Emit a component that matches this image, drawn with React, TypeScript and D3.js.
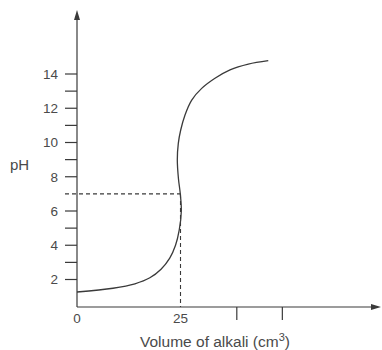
import React from 'react';
import * as d3 from 'd3';

// Data

const volumes: number[] = [0, 8.7, 14, 17.6, 20.3, 22.4, 23.8, 24.7, 25.2, 24.95, 24.5, 24.23, 24.47, 25.05, 26.09, 27.71, 30.12, 33.33, 36.96, 41.38, 46.2];
const phValues: number[] = [1.27, 1.49, 1.75, 2.1, 2.6, 3.25, 4.0, 4.9, 6.0, 7.0, 7.9, 8.98, 9.95, 10.73, 11.61, 12.48, 13.16, 13.75, 14.24, 14.58, 14.78];

const yLabelTicks: number[] = [2, 4, 6, 8, 10, 12, 14];
const yMinorTicks: number[] = [3, 5, 9, 11, 13];
const xLabelTicks: number[] = [0, 25];
const xMinorTicks: number[] = [38.6, 49.6];

const equivalenceVolume = 25;
const equivalencePH = 7;

function TitrationCurveRaw() {
    const ref = React.useRef<SVGSVGElement>(null);

    React.useEffect(() => {
        const width = 382;
        const height = 350;
        const ink = '#3a3a3a';
        const textInk = '#4a4a4a';
        const font = '"Liberation Sans", Arial, sans-serif';

        const x = d3.scaleLinear().domain([0, 25]).range([77, 180.5]);
        const y = d3.scaleLinear().domain([2, 14]).range([279.5, 74]);

        const axisY = 307; // x axis baseline
        const axisX = x(0);

        const svg = d3.select(ref.current)
            .attr('width', width)
            .attr('height', height);
        svg.selectAll('*').remove();

        const g = svg.append('g');

        // axes
        g.append('line')
            .attr('x1', axisX).attr('x2', 372)
            .attr('y1', axisY).attr('y2', axisY)
            .attr('stroke', ink).attr('stroke-width', 1.2);
        g.append('path')
            .attr('d', `M381,${axisY} L371,${axisY - 3} L371,${axisY + 3} Z`)
            .attr('fill', ink);

        g.append('line')
            .attr('x1', axisX).attr('x2', axisX)
            .attr('y1', axisY).attr('y2', 19)
            .attr('stroke', ink).attr('stroke-width', 1.2);
        g.append('path')
            .attr('d', `M${axisX},10 L${axisX - 3},20 L${axisX + 3},20 Z`)
            .attr('fill', ink);

        // y ticks
        g.selectAll('line.ytick')
            .data([...yLabelTicks, ...yMinorTicks])
            .join('line')
            .attr('class', 'ytick')
            .attr('x1', axisX - 12).attr('x2', axisX)
            .attr('y1', (d) => y(d)).attr('y2', (d) => y(d))
            .attr('stroke', ink).attr('stroke-width', 1.2);

        g.selectAll('text.ylabel')
            .data(yLabelTicks)
            .join('text')
            .attr('class', 'ylabel')
            .attr('x', axisX - 19)
            .attr('y', (d) => y(d))
            .attr('dy', '0.36em')
            .attr('text-anchor', 'end')
            .attr('font-family', font)
            .attr('font-size', 13.5)
            .attr('fill', textInk)
            .text((d) => d);

        // x ticks
        g.selectAll('line.xtick')
            .data(xMinorTicks)
            .join('line')
            .attr('class', 'xtick')
            .attr('x1', (d) => x(d)).attr('x2', (d) => x(d))
            .attr('y1', axisY).attr('y2', axisY + 13)
            .attr('stroke', ink).attr('stroke-width', 1.2);

        g.selectAll('text.xlabel')
            .data(xLabelTicks)
            .join('text')
            .attr('class', 'xlabel')
            .attr('x', (d) => x(d))
            .attr('y', 323)
            .attr('text-anchor', 'middle')
            .attr('font-family', font)
            .attr('font-size', 13.5)
            .attr('fill', textInk)
            .text((d) => d);

        // dashed guide lines
        g.append('line')
            .attr('x1', axisX - 12).attr('x2', x(equivalenceVolume))
            .attr('y1', y(equivalencePH)).attr('y2', y(equivalencePH))
            .attr('stroke', ink).attr('stroke-width', 1.1)
            .attr('stroke-dasharray', '4,3');
        g.append('line')
            .attr('x1', x(equivalenceVolume)).attr('x2', x(equivalenceVolume))
            .attr('y1', y(equivalencePH)).attr('y2', axisY)
            .attr('stroke', ink).attr('stroke-width', 1.1)
            .attr('stroke-dasharray', '4,3');

        // curve
        const points = volumes.map((v, i) => [v, phValues[i]] as [number, number]);
        const line = d3.line<[number, number]>()
            .x((d) => x(d[0]))
            .y((d) => y(d[1]))
            .curve(d3.curveCatmullRom.alpha(0.5));
        g.append('path')
            .datum(points)
            .attr('d', line)
            .attr('fill', 'none')
            .attr('stroke', ink)
            .attr('stroke-width', 1.3);

        // axis titles
        g.append('text')
            .attr('x', 10).attr('y', 170)
            .attr('font-family', font)
            .attr('font-size', 15)
            .attr('fill', textInk)
            .text('pH');

        const xt = g.append('text')
            .attr('x', 215).attr('y', 347)
            .attr('text-anchor', 'middle')
            .attr('font-family', font)
            .attr('font-size', 15.5)
            .attr('fill', textInk);
        xt.append('tspan').text('Volume of alkali (cm');
        xt.append('tspan').attr('font-size', 11).attr('dy', -6).text('3');
        xt.append('tspan').attr('dy', 6).text(')');
    }, []);

    return (
        <svg ref={ref} style={{ position: 'absolute', left: 0, top: 0, background: '#fff' }}></svg>
    );
}

export default function App() {
    return <TitrationCurveRaw />;
}
